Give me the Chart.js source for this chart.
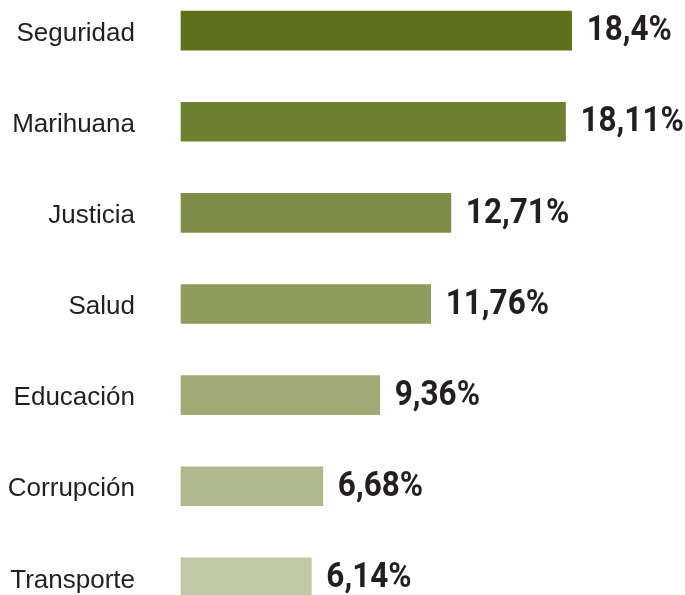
<!DOCTYPE html>
<html><head><meta charset="utf-8">
<script src="https://cdn.jsdelivr.net/npm/chart.js@4"></script>
<style>html,body{margin:0;padding:0;background:#fff;overflow:hidden;width:685px;height:595px}#wrap{width:685px;height:638px;position:absolute;left:0;top:-15px}</style>
</head><body><div id="wrap"><canvas id="c"></canvas></div>
<script>
const categories = ["Seguridad","Marihuana","Justicia","Salud","Educación","Corrupción","Transporte"];
const values = [18.4, 18.11, 12.71, 11.76, 9.36, 6.68, 6.14];
const valueLabels = ["18,4%","18,11%","12,71%","11,76%","9,36%","6,68%","6,14%"];
const barColors = ["#5f701c","#6d7f30","#7e8c4a","#8f9c5e","#a0a874","#b0b88e","#c0c8a6"];

const valuePlugin = {
  id: 'vals',
  afterDatasetsDraw(chart) {
    const ctx = chart.ctx;
    const meta = chart.getDatasetMeta(0);
    meta.data.forEach((bar, i) => {
      ctx.save();
      ctx.font = 'bold 35px Roboto, "Liberation Sans", sans-serif';
      ctx.fillStyle = '#231f20';
      ctx.textBaseline = 'middle';
      ctx.textAlign = 'left';
      ctx.translate(bar.x + 15, bar.y + 1);
      ctx.scale(0.9, 1);
      ctx.fillText(valueLabels[i], 0, 0);
      ctx.restore();
    });
  }
};

new Chart(document.getElementById('c'), {
  type: 'bar',
  data: {
    labels: categories,
    datasets: [{
      data: values,
      backgroundColor: barColors,
      barThickness: 39,
      clip: false
    }]
  },
  options: {
    indexAxis: 'y',
    responsive: true,
    maintainAspectRatio: false,
    animation: false,
    layout: { padding: 0 },
    plugins: { legend: { display: false }, tooltip: { enabled: false } },
    scales: {
      x: { display: false, min: 0, max: 23.74 },
      y: {
        offset: true,
        grid: { display: false, drawTicks: false },
        border: { display: false },
        ticks: { padding: 46, labelOffset: 3, color: '#231f20', font: { family: '"Liberation Sans", Arial, sans-serif', size: 26 } },
        afterFit(scale) { scale.width = 181; scale.paddingTop = 0; scale.paddingBottom = 0; }
      }
    }
  },
  plugins: [valuePlugin]
});
</script>
</body></html>
